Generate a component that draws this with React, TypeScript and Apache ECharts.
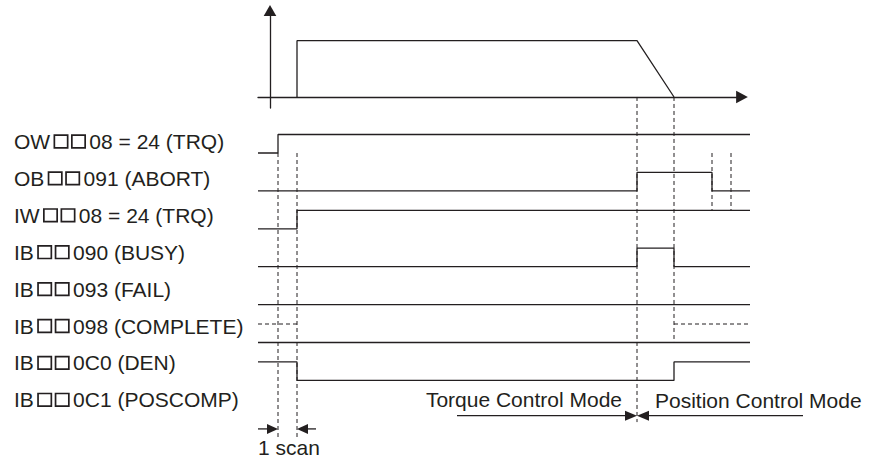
import React, { useEffect, useRef } from "react";
import * as echarts from "echarts";

// ---------- data (time units; levels 0 = low, 1 = high) ----------
const signalLabels = [
  "OW\u25A1\u25A108 = 24 (TRQ)",
  "OB\u25A1\u25A1091 (ABORT)",
  "IW\u25A1\u25A108 = 24 (TRQ)",
  "IB\u25A1\u25A1090 (BUSY)",
  "IB\u25A1\u25A1093 (FAIL)",
  "IB\u25A1\u25A1098 (COMPLETE)",
  "IB\u25A1\u25A10C0 (DEN)",
  "IB\u25A1\u25A10C1 (POSCOMP)",
];

// speed (top chart)
const speedTimes = [27, 27, 367, 404];
const speedValues = [0, 100, 100, 0];

// solid signal traces
const owTimes = [-12, 8, 8, 480];
const owLevels = [0, 0, 1, 1];
const abortTimes = [-12, 367, 367, 442, 442, 480];
const abortLevels = [0, 0, 1, 1, 0, 0];
const iwTimes = [-12, 27, 27, 480];
const iwLevels = [0, 0, 1, 1];
const busyTimes = [-12, 367, 367, 404, 404, 480];
const busyLevels = [0, 0, 1, 1, 0, 0];
const failTimes = [-12, 480];
const failLevels = [0, 0];
const completeTimes = [-12, 480];
const completeLevels = [0, 0];
const denTimes = [-12, 27, 27, 404, 404, 480];
const denLevels = [1, 1, 0, 0, 1, 1];

// dashed (indeterminate) COMPLETE segments
const completeDashA = [-12, 27];
const completeDashB = [404, 480];

// timing marks (dashed verticals): time, from row, to row
const markTimes = [8, 27, 367, 404, 442, 461];
const markFrom = [0, 0, -1.478, -1.478, 0, 0];
const markTo = [7.57, 7.57, 7.1, 5.0, 1.512, 1.512];

// dimension arrows: tail time, tip time, row
const arrowTails = [-12, 46, 187, 533];
const arrowTips = [8, 27, 367, 367];
const arrowRows = [7.28, 7.28, 6.93, 6.93];
const arrowLen = [11, 11, 12, 12];

const modeTexts = ["Torque Control Mode", "Position Control Mode"];
const scanText = "1 scan";

// ---------- style ----------
const INK = "#231f20";
const HIGH = 0.488; // rows
const FAMILY = '"Liberation Sans", Arial, sans-serif';
const FONT = '21px ' + FAMILY;

function trace(row: number, times: number[], levels: number[]) {
  return times.map((t, i) => [t, row - levels[i] * HIGH]);
}

// split a label so each placeholder square becomes a drawn box token
function richLabel(s: string) {
  let out = "";
  let buf = "";
  for (const ch of s) {
    if (ch === "\u25A1") {
      if (buf) out += "{a|" + buf + "}";
      buf = "";
      out += "{g| }{s|\u25A1}";
    } else {
      if (buf === "" && out.endsWith("}") && out.endsWith("{s|\u25A1}")) out += "{g| }";
      buf += ch;
    }
  }
  if (buf) out += "{a|" + buf + "}";
  return out;
}

export default function App() {
  const ref = useRef<HTMLDivElement>(null);
  useEffect(() => {
    if (!ref.current) return;
    const chart = echarts.init(ref.current, undefined, { renderer: "svg" });

    const solid = (name: string, data: number[][]) => ({
      name,
      type: "line",
      xAxisIndex: 1,
      yAxisIndex: 1,
      data,
      symbol: "none",
      clip: false,
      silent: true,
      lineStyle: { color: INK, width: 1.3 },
    });
    const dashed = (name: string, data: number[][]) => ({
      name,
      type: "line",
      xAxisIndex: 1,
      yAxisIndex: 1,
      data,
      symbol: "none",
      clip: false,
      silent: true,
      lineStyle: { color: INK, width: 1, type: [4, 3] },
    });

    const series: any[] = [
      {
        name: "speed",
        type: "line",
        xAxisIndex: 0,
        yAxisIndex: 0,
        data: speedTimes.map((t, i) => [t, speedValues[i]]),
        symbol: "none",
        clip: false,
        lineStyle: { color: INK, width: 1.3 },
      },
      solid("OW", trace(0, owTimes, owLevels)),
      solid("ABORT", trace(1, abortTimes, abortLevels)),
      solid("IW", trace(2, iwTimes, iwLevels)),
      solid("BUSY", trace(3, busyTimes, busyLevels)),
      solid("FAIL", trace(4, failTimes, failLevels)),
      solid("COMPLETE", trace(5, completeTimes, completeLevels)),
      solid("DEN", trace(6, denTimes, denLevels)),
      dashed("COMPLETE?A", completeDashA.map((t) => [t, 5 - HIGH])),
      dashed("COMPLETE?B", completeDashB.map((t) => [t, 5 - HIGH])),
      ...markTimes.map((t, i) =>
        dashed("mark" + i, [
          [t, markFrom[i]],
          [t, markTo[i]],
        ])
      ),
      {
        name: "arrows",
        type: "custom",
        xAxisIndex: 1,
        yAxisIndex: 1,
        silent: true,
        encode: { x: [0, 1], y: 2 },
        data: arrowTails.map((t, i) => [t, arrowTips[i], arrowRows[i], arrowLen[i]]),
        renderItem: (params: any, api: any) => {
          const tail = api.coord([api.value(0), api.value(2)]);
          const tip = api.coord([api.value(1), api.value(2)]);
          const L = api.value(3);
          const dir = tip[0] > tail[0] ? 1 : -1;
          const W = 5;
          return {
            type: "group",
            children: [
              {
                type: "line",
                shape: { x1: tail[0], y1: tail[1], x2: tip[0] - dir * L, y2: tip[1] },
                style: { stroke: INK, lineWidth: 1.3 },
              },
              {
                type: "polygon",
                shape: {
                  points: [
                    [tip[0], tip[1]],
                    [tip[0] - dir * L, tip[1] - W],
                    [tip[0] - dir * L, tip[1] + W],
                  ],
                },
                style: { fill: INK },
              },
            ],
          };
        },
      },
    ];

    const graphic: any[] = [
      ...signalLabels.map((s, i) => ({
        type: "text",
        x: 14,
        y: 141.5 + 36.9 * i,
        silent: true,
        style: {
          text: richLabel(s),
          font: FONT,
          fill: INK,
          align: "left",
          verticalAlign: "middle",
          rich: {
            a: { fontSize: 21, fontFamily: FAMILY, fill: INK, lineHeight: 24, verticalAlign: "middle" },
            g: { fontSize: 4, width: 4.2, lineHeight: 24, verticalAlign: "middle", fill: "rgba(0,0,0,0)" },
            s: {
              fontSize: 11,
              fontFamily: FAMILY,
              width: 13.3,
              height: 12.6,
              align: "center",
              verticalAlign: "middle",
              fill: "rgba(0,0,0,0)",
              borderColor: INK,
              borderWidth: 1.7,
              padding: [0, 0, 0, 0],
            },
          },
        },
      })),
      {
        type: "text",
        x: 622,
        y: 399,
        style: { text: modeTexts[0], font: FONT, fill: INK, align: "right", verticalAlign: "middle" },
      },
      {
        type: "text",
        x: 655,
        y: 400,
        style: { text: modeTexts[1], font: FONT, fill: INK, align: "left", verticalAlign: "middle" },
      },
      {
        type: "text",
        x: 258,
        y: 447.5,
        style: { text: scanText, font: FONT, fill: INK, align: "left", verticalAlign: "middle" },
      },
    ];

    const hiddenAxis = {
      show: false,
      splitLine: { show: false },
    };

    chart.setOption({
      animation: false,
      backgroundColor: "#ffffff",
      grid: [
        { left: 258, right: 131, top: 10.5, bottom: 353 },
        { left: 0, right: 0, top: 0, bottom: 0 },
      ],
      xAxis: [
        {
          gridIndex: 0,
          type: "value",
          min: -12,
          max: 472,
          axisLine: {
            show: true,
            onZero: true,
            symbol: ["none", "triangle"],
            symbolSize: [12.6, 11.7],
            lineStyle: { color: INK, width: 1.3 },
          },
          axisTick: { show: false },
          axisLabel: { show: false },
          splitLine: { show: false },
        },
        { gridIndex: 1, type: "value", min: -270, max: 603, ...hiddenAxis },
      ],
      yAxis: [
        {
          gridIndex: 0,
          type: "value",
          min: -19.5,
          max: 153.6,
          axisLine: {
            show: true,
            onZero: true,
            symbol: ["none", "triangle"],
            symbolSize: [12.6, 11],
            lineStyle: { color: INK, width: 1.3 },
          },
          axisTick: { show: false },
          axisLabel: { show: false },
          splitLine: { show: false },
        },
        {
          gridIndex: 1,
          type: "value",
          min: -153 / 37.9,
          max: (461 - 153) / 37.9,
          inverse: true,
          ...hiddenAxis,
        },
      ],
      series,
      graphic,
    });
    return () => chart.dispose();
  }, []);
  return (
    <div
      ref={ref}
      style={{ position: "fixed", left: 0, top: 0, width: 873, height: 461, background: "#fff" }}
    />
  );
}
